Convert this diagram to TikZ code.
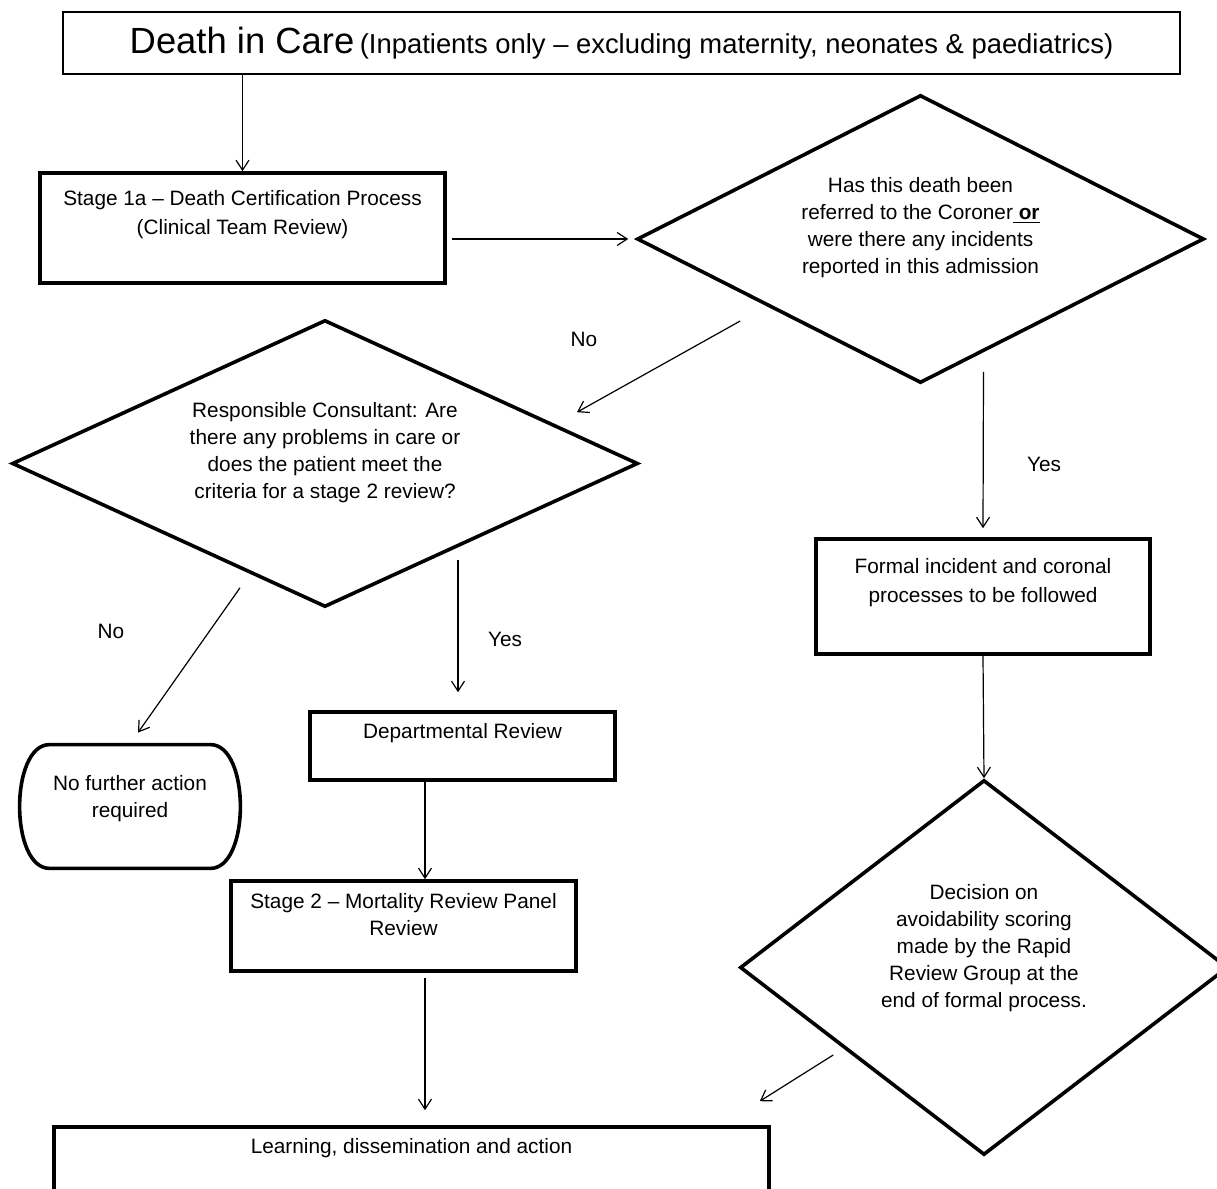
\documentclass[tikz,border=0pt]{standalone}
\usepackage{fontspec}
\setmainfont{Liberation Sans}
\usetikzlibrary{shapes.geometric,arrows.meta,positioning}
\begin{document}
\begin{tikzpicture}[x=0.5pt,y=-0.5pt,
    box/.style={draw, line width=1.8pt, inner sep=0pt},
    decide/.style={diamond, draw, line width=1.8pt, inner sep=0pt},
    txt/.style={align=center, inner sep=0pt, font=\fontsize{10.4}{13.5}\selectfont},
    lbl/.style={inner sep=0pt, font=\fontsize{10.4}{13.5}\selectfont},
    arr/.style={-{Straight Barb[length=5pt,width=6.5pt]}, line width=0.6pt}]
            \useasboundingbox (0,0) rectangle (1217,1189);
            \clip (0,0) rectangle (1217,1189);
            \node[draw, line width=0.75pt, minimum width=558.5pt, minimum height=31pt] (title) at (621.5,43)
                {{\fontsize{18.2}{20}\selectfont Death in Care} {\fontsize{13.7}{16}\selectfont(Inpatients only – excluding maternity, neonates \& paediatrics)}};
            \node[box, minimum width=202.5pt, minimum height=55pt] (s1a) at (242.5,228) {};
            \node[txt, below=9.5pt of s1a.north, font=\fontsize{10.4}{14.5}\selectfont] (s1at) {Stage 1a – Death Certification Process\\(Clinical Team Review)};
            \node[decide, minimum width=283.5pt, minimum height=144pt] (d1) at (920.5,239) {};
            \node[txt] (d1t) at ([yshift=5.75pt]d1.center) {Has this death been\\referred to the Coroner\underline{\ \textbf{or}}\\were there any incidents\\reported in this admission};
            \node[decide, minimum width=313pt, minimum height=143.5pt] (d2) at (325,463.5) {};
            \node[txt] (d2t) at ([yshift=5.25pt]d2.center) {Responsible Consultant: Are\\there any problems in care or\\does the patient meet the\\criteria for a stage 2 review?};
            \node[box, minimum width=167pt, minimum height=57.5pt] (form) at (983,596.5) {};
            \node[txt, below=10.5pt of form.north, font=\fontsize{10.4}{14.5}\selectfont] (formt) {Formal incident and coronal\\processes to be followed};
            \node[decide, minimum width=244pt, minimum height=187.5pt] (d3) at (984,967.5) {};
            \node[txt] (d3t) at ([yshift=9.75pt]d3.center) {Decision on\\avoidability scoring\\made by the Rapid\\Review Group at the\\end of formal process.};
            \node[minimum width=110pt, minimum height=61.5pt, inner sep=0pt] (nfa) at (130,806.5) {};
            \draw[line width=1.8pt] ([xshift=15pt]nfa.north west) -- ([xshift=-15pt]nfa.north east)
                .. controls ([xshift=5pt]nfa.north east) and ([xshift=5pt]nfa.south east) .. ([xshift=-15pt]nfa.south east)
                -- ([xshift=15pt]nfa.south west)
                .. controls ([xshift=-5pt]nfa.south west) and ([xshift=-5pt]nfa.north west) .. cycle;
            \node[txt] (nfat) at ([yshift=4pt]nfa.center) {No further action\\required};
            \node[box, minimum width=152.5pt, minimum height=34pt] (dept) at (462.5,746) {};
            \node[txt, below=6.5pt of dept.north] (deptt) {Departmental Review};
            \node[box, minimum width=172.5pt, minimum height=45pt] (st2) at (403.5,926) {};
            \node[txt, below=7pt of st2.north] (st2t) {Stage 2 – Mortality Review Panel\\Review};
            \node[box, minimum width=357.5pt, minimum height=65pt] (learn) at (411.5,1192) {};
            \node[txt, below=6.5pt of learn.north] (learnt) {Learning, dissemination and action};
            \node[lbl] (no1) at (584,339) {No};
            \node[lbl] (yes1) at (1044,464) {Yes};
            \node[lbl] (no2) at (111,631) {No};
            \node[lbl] (yes2) at (505,639) {Yes};
            \draw[arr] (s1a.north |- title.south) -- (s1a.north);
            \draw[arr, shorten <=2.5pt, shorten >=3.5pt] (s1a.east |- d1.west) -- (d1.west);
            \draw[arr] ([shift={(105,82)}]d1.west) -- ([shift={(252,94)}]d2.north);
            \draw[arr] ([shift={(63,-13)}]d1.south) -- ([shift={(0,-9)}]form.north);
            \draw[arr] (form.south) -- (d3.north);
            \draw[arr] ([shift={(-85,-21)}]d2.south) -- ([shift={(8,-12)}]nfa.north);
            \draw[arr] ([shift={(133,-49)}]d2.south) -- ([shift={(-4.5,-18)}]dept.north);
            \draw[arr] ([xshift=-18.75pt]dept.south) -- ([xshift=-18.75pt]dept.south |- st2.north);
            \draw[arr] ([shift={(21.5,5)}]st2.south) -- ([shift={(13.5,-15)}]learn.north);
            \draw[arr] ([shift={(95,87.5)}]d3.west) -- ([shift={(-11,-24)}]learn.north east);
        \end{tikzpicture}
\end{document}
